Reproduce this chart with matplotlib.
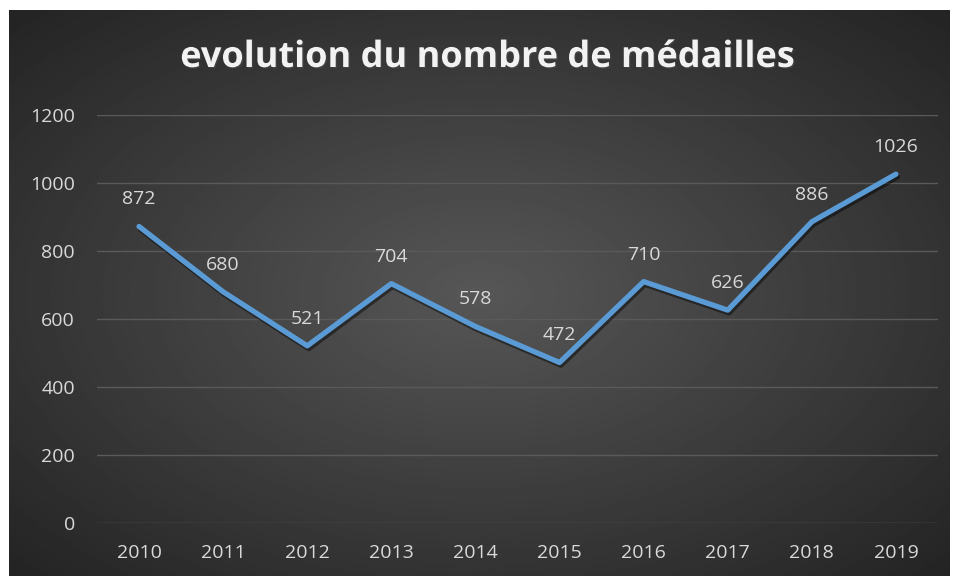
import numpy as np
import matplotlib
matplotlib.use("Agg")
import matplotlib.pyplot as plt
import matplotlib.patheffects as pe

years = ["2010", "2011", "2012", "2013", "2014", "2015", "2016", "2017", "2018", "2019"]
medals = [872, 680, 521, 704, 578, 472, 710, 626, 886, 1026]
yticks = [0, 200, 400, 600, 800, 1000, 1200]

W, H = 957, 578
fig = plt.figure(figsize=(W / 100, H / 100), dpi=100)
fig.patch.set_facecolor("white")

# dark radial gradient panel
bg = fig.add_axes([9 / W, 2 / H, 941 / W, 566 / H])
yy, xx = np.mgrid[-1:1:300j, -1:1:500j]
r = np.sqrt(xx ** 2 + yy ** 2) / np.sqrt(2)
bg.imshow(0.34 - 0.2 * r, cmap="gray", vmin=0, vmax=1, aspect="auto",
          extent=[0, 1, 0, 1])
bg.axis("off")

ax = fig.add_axes([97 / W, 55 / H, 841 / W, 408 / H])
ax.patch.set_alpha(0)
x = np.arange(len(years))
ax.plot(x, medals, color="#5b9bd5", lw=3.8, solid_capstyle="round",
        solid_joinstyle="round",
        path_effects=[pe.SimpleLineShadow(offset=(1, -2), alpha=0.45),
                      pe.Normal()])
for xi, v in zip(x, medals):
    ax.annotate(str(v), (xi, v), xytext=(0, 13), textcoords="offset points",
                ha="center", va="bottom", color="#d9d9d9", fontsize=14,
                family="Open Sans")

ax.set_xlim(-0.5, len(years) - 0.5)
ax.set_ylim(0, 1200)
ax.set_xticks(x)
ax.set_xticklabels(years)
ax.set_yticks(yticks)
ax.grid(axis="y", color="#5a5a5a", lw=1)
ax.set_axisbelow(True)
for s in ax.spines.values():
    s.set_visible(False)
ax.tick_params(length=0, colors="#d9d9d9", labelsize=14, pad=15)
ax.tick_params(axis="y", pad=16)
for lab in ax.get_xticklabels() + ax.get_yticklabels():
    lab.set_family("Open Sans")

fig.text(0.51, 1 - 58 / H, "evolution du nombre de médailles", ha="center",
         va="center", color="#f2f2f2", fontsize=26, fontweight="bold",
         family="Open Sans",
         path_effects=[pe.withSimplePatchShadow(offset=(1, -1), alpha=0.6)])

fig.savefig("out.png", dpi=100)
